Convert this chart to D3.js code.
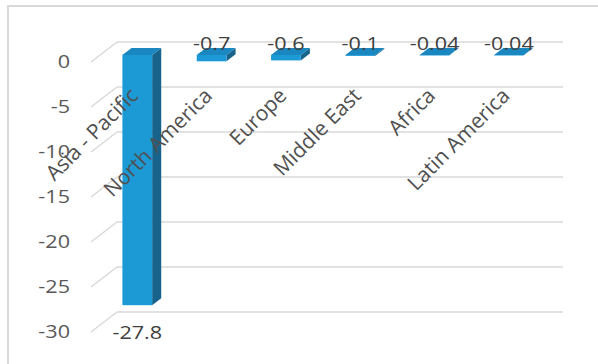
<!DOCTYPE html>
<html><head><meta charset="utf-8">
<script src="https://cdn.jsdelivr.net/npm/d3@7"></script>
<style>html,body{margin:0;padding:0;background:#fff;}svg{display:block;}</style>
</head><body>
<svg id="c" width="598" height="364"></svg>
<script>
const categories = ["Asia - Pacific", "North America", "Europe", "Middle East", "Africa", "Latin America"];
const values = [-27.8, -0.7, -0.6, -0.1, -0.04, -0.04];
const valueLabels = ["-27.8", "-0.7", "-0.6", "-0.1", "-0.04", "-0.04"];
const yTicks = [0, -5, -10, -15, -20, -25, -30];

const svg = d3.select("#c");
const textColor = "#595959";
const gridColor = "#d9d9d9";

// chart border (extends past the right and bottom edges)
svg.append("path").attr("d", "M8,400 L8,6 L620,6")
  .attr("fill", "none").attr("stroke", "#d9d9d9").attr("stroke-width", 2);

// back wall geometry
const backL = 117, backR = 563;
const depthX = -26, depthY = 20;       // back -> front offset
const fBack = 0.3, fFront = 0.65;      // bar depth position

const y = d3.scaleLinear().domain([-30, 0]).range([312, 42]);
const x = d3.scaleBand().domain(categories).range([backL, backR])
  .paddingInner(0.6).paddingOuter(0.3);

// gridlines: back wall + left wall diagonal
const g = svg.append("g");
yTicks.forEach(t => {
  const yy = y(t);
  g.append("line").attr("x1", backL).attr("x2", backR).attr("y1", yy).attr("y2", yy)
    .attr("stroke", gridColor).attr("stroke-width", 1.5);
  g.append("line").attr("x1", backL).attr("y1", yy).attr("x2", backL + depthX).attr("y2", yy + depthY)
    .attr("stroke", gridColor).attr("stroke-width", 1.5);
});

// y tick labels at front plane
const yl = svg.append("g").attr("fill", textColor)
  .attr("font-family", "'Open Sans', sans-serif").attr("font-size", 18);
yTicks.forEach(t => {
  yl.append("text")
    .attr("transform", `translate(70,${y(t) + depthY}) scale(1.2,1)`)
    .attr("text-anchor", "end").attr("dy", "0.35em").text(t);
});

// bars
const fx = fFront * depthX, fy = fFront * depthY;
const ddx = (fFront - fBack) * -depthX, ddy = (fFront - fBack) * depthY;
const bars = svg.append("g");
const w = x.bandwidth();
categories.forEach((c, i) => {
  const v = values[i];
  const x0 = x(c) + fx;
  const y0 = y(0) + fy, y1 = y(v) + fy;
  // side face
  bars.append("path").attr("fill", "#17638b")
    .attr("d", `M${x0 + w},${y0} L${x0 + w + ddx},${y0 - ddy} L${x0 + w + ddx},${y1 - ddy} L${x0 + w},${y1} Z`);
  // front face
  bars.append("rect").attr("x", x0).attr("y", y0).attr("width", w).attr("height", Math.max(0.5, y1 - y0))
    .attr("fill", "#1c9ad6");
  // top face
  bars.append("path").attr("fill", "#1a87c0")
    .attr("d", `M${x0},${y0} L${x0 + w},${y0} L${x0 + w + ddx},${y0 - ddy} L${x0 + ddx},${y0 - ddy} Z`);
});

// category labels (rotated)
const cl = svg.append("g").attr("fill", "#505050")
  .attr("font-family", "'Open Sans', sans-serif").attr("font-size", 21);
categories.forEach(c => {
  const cx = x(c) + fx + w / 2;
  cl.append("text").attr("transform", `translate(${cx + 2},97) rotate(-45)`)
    .attr("text-anchor", "end").text(c);
});

// value labels
const vl = svg.append("g").attr("fill", "#404040")
  .attr("font-family", "'Open Sans', sans-serif").attr("font-size", 18);
categories.forEach((c, i) => {
  const v = values[i];
  const cx = x(c) + fx + w / 2;
  const yy = v < -5 ? y(v) + fy + 34 : y(0) + fy - 5;
  vl.append("text").attr("transform", `translate(${cx},${yy}) scale(1.2,1)`)
    .attr("text-anchor", "middle").text(valueLabels[i]);
});
</script>
</body></html>
